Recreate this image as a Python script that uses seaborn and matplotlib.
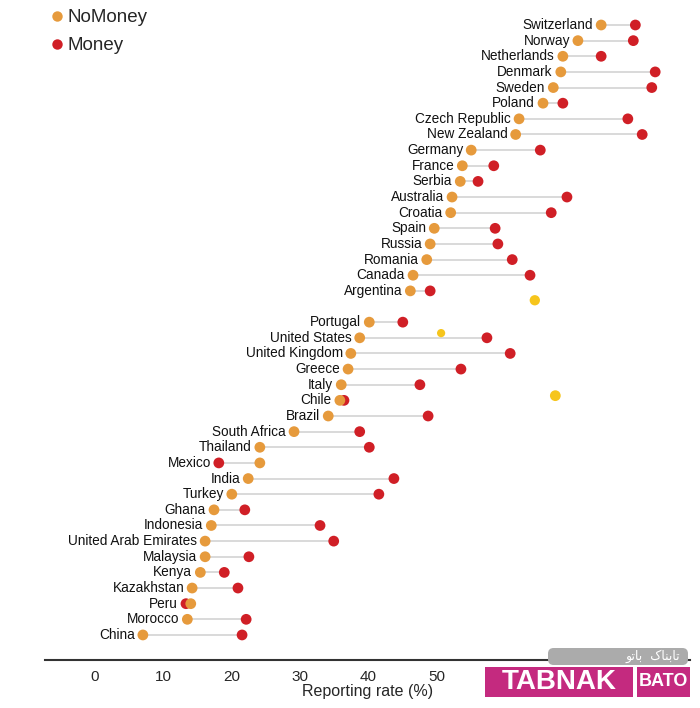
import pandas as pd
import matplotlib.pyplot as plt
import seaborn as sns
from matplotlib.lines import Line2D
from matplotlib.patches import FancyBboxPatch, Rectangle

# Datos: tasa de reporte (%) por pais, sin dinero y con dinero
paises = ['Switzerland', 'Norway', 'Netherlands', 'Denmark', 'Sweden', 'Poland',
          'Czech Republic', 'New Zealand', 'Germany', 'France', 'Serbia', 'Australia',
          'Croatia', 'Spain', 'Russia', 'Romania', 'Canada', 'Argentina',
          'Portugal', 'United States', 'United Kingdom', 'Greece', 'Italy', 'Chile',
          'Brazil', 'South Africa', 'Thailand', 'Mexico', 'India', 'Turkey', 'Ghana',
          'Indonesia', 'United Arab Emirates', 'Malaysia', 'Kenya', 'Kazakhstan',
          'Peru', 'Morocco', 'China']
no_money = [74.0, 70.6, 68.4, 68.1, 67.0, 65.5, 62.0, 61.5, 55.0, 53.7, 53.4, 52.2,
            52.0, 49.6, 49.0, 48.5, 46.5, 46.1,
            40.1, 38.7, 37.4, 37.0, 36.0, 35.8, 34.1, 29.1, 24.1, 24.1, 22.4, 20.0,
            17.4, 17.0, 16.1, 16.1, 15.4, 14.2, 14.0, 13.5, 7.0]
money = [79.0, 78.7, 74.0, 81.9, 81.4, 68.4, 77.9, 80.0, 65.1, 58.3, 56.0, 69.0,
         66.7, 58.5, 58.9, 61.0, 63.6, 49.0,
         45.0, 57.3, 60.7, 53.5, 47.5, 36.4, 48.7, 38.7, 40.1, 18.1, 43.7, 41.5,
         21.9, 32.9, 34.9, 22.5, 18.9, 20.9, 13.3, 22.1, 21.5]
# hay una fila vacia despues de Argentina
filas = [i if i < 18 else i + 1 for i in range(len(paises))]

# puntos amarillos sueltos que aparecen en la imagen
sueltos_x = [64.3, 50.6, 67.3]
sueltos_y = [17.6, 19.7, 23.7]

ticks = [0, 10, 20, 30, 40, 50]

naranja = '#E69A3C'
rojo = '#D01F26'
gris = '#D9D9D9'
rosa = '#C42A7F'

df = pd.DataFrame({'pais': paises, 'fila': filas, 'NoMoney': no_money, 'Money': money})
largo = df.melt(id_vars=['pais', 'fila'], value_vars=['Money', 'NoMoney'],
                var_name='grupo', value_name='tasa')

sns.set_style('white')
plt.rcParams['font.family'] = ['Liberation Sans', 'DejaVu Sans']

fig = plt.figure(figsize=(7, 7.08), dpi=100)
ax = fig.add_axes([45 / 700, 48 / 708, 645 / 700, 660 / 708])

# lineas entre los dos puntos
ax.hlines(df['fila'], df['NoMoney'], df['Money'], color=gris, linewidth=1.4, zorder=1)

# puntos rojos abajo, naranjas encima
sns.scatterplot(data=largo[largo['grupo'] == 'Money'], x='tasa', y='fila',
                color=rojo, s=60, edgecolor='none', ax=ax, zorder=2, legend=False)
sns.scatterplot(data=largo[largo['grupo'] == 'NoMoney'], x='tasa', y='fila',
                color=naranja, s=60, edgecolor='none', ax=ax, zorder=3, legend=False)
ax.scatter(sueltos_x, sueltos_y, color='#F6C51C', s=[55, 35, 60], edgecolor='none', zorder=3)

# etiquetas de paises a la izquierda del punto menor
for _, fila in df.iterrows():
    x_min = min(fila['NoMoney'], fila['Money'])
    ax.annotate(fila['pais'], (x_min, fila['fila']), xytext=(-8, 0),
                textcoords='offset pixels', ha='right', va='center',
                fontsize=9.8, color='#111111')

ax.set_xlim(-50 / 6.84, 595 / 6.84)
ax.set_ylim(635 / 15.64, -25 / 15.64)
ax.set_xticks(ticks)
ax.set_xticklabels([str(t) for t in ticks], fontsize=11)
ax.tick_params(axis='x', length=0, pad=7)
ax.set_yticks([])
ax.set_xlabel('Reporting rate (%)', fontsize=11.5, labelpad=0)
for lado in ['top', 'right', 'left']:
    ax.spines[lado].set_visible(False)
ax.spines['bottom'].set_color('#333333')
ax.spines['bottom'].set_linewidth(1.5)
ax.set_ylabel('')

# leyenda
manijas = [Line2D([0], [0], marker='o', color='none', markerfacecolor=naranja,
                  markeredgecolor='none', markersize=7.5),
           Line2D([0], [0], marker='o', color='none', markerfacecolor=rojo,
                  markeredgecolor='none', markersize=7.5)]
fig.legend(manijas, ['NoMoney', 'Money'], loc='upper left',
           bbox_to_anchor=(52 / 700, 1 - 9 / 708), frameon=False, fontsize=13.5,
           handlelength=0.5, handletextpad=0.35, labelspacing=0.6, borderpad=0,
           borderaxespad=0)

# marca de agua
fig.patches.append(FancyBboxPatch((548 / 700, 1 - 665 / 708), 140 / 700, 17 / 708,
                                  boxstyle='round,pad=0,rounding_size=0.008',
                                  transform=fig.transFigure, facecolor='#ABABAB',
                                  edgecolor='none', zorder=5))
fig.text(680 / 700, 1 - 656 / 708,
         '\uFEEE\uFE97\uFE8E\uFE91  \u06A9\uFE8E\uFEE8\uFE91\uFE8E\uFE97',
         ha='right', va='center', fontsize=9, color='white', family=['DejaVu Sans'],
         zorder=6)
fig.patches.append(Rectangle((485 / 700, 1 - 697 / 708), 148 / 700, 30 / 708,
                             transform=fig.transFigure, facecolor=rosa,
                             edgecolor='none', zorder=5))
fig.patches.append(Rectangle((637 / 700, 1 - 697 / 708), 53 / 700, 30 / 708,
                             transform=fig.transFigure, facecolor=rosa,
                             edgecolor='none', zorder=5))
fig.text(559 / 700, 1 - 682 / 708, 'TABNAK', ha='center', va='center', fontsize=20,
         fontweight='bold', color='white', zorder=6)
fig.text(663.5 / 700, 1 - 682 / 708, 'BATO', ha='center', va='center', fontsize=13,
         fontweight='bold', color='white', zorder=6)

fig.savefig('out.png', dpi=100)
